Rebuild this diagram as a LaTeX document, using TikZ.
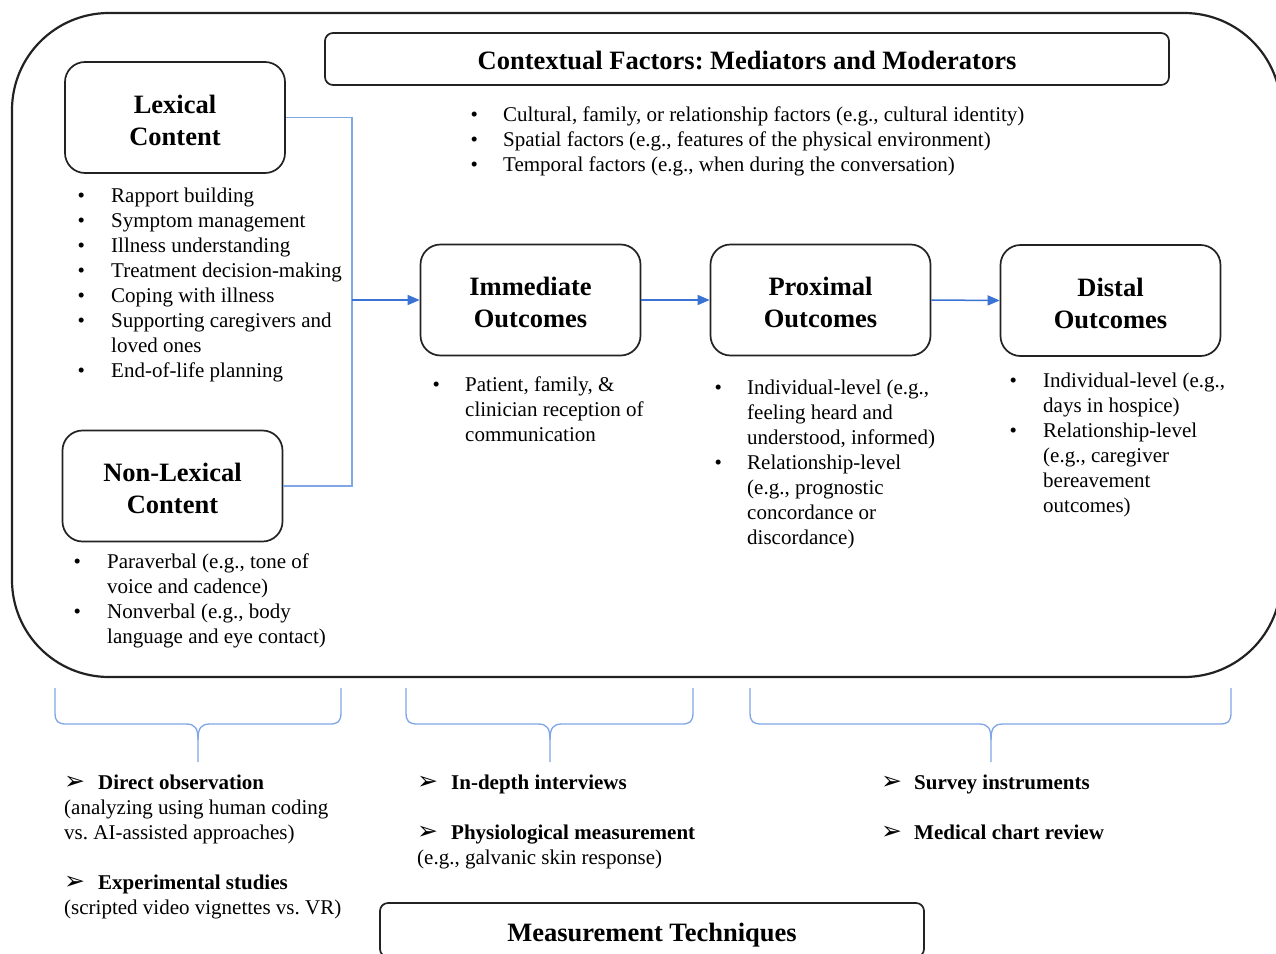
\documentclass[tikz,border=0pt]{standalone}
\usepackage{fontspec}
\setmainfont{Liberation Serif}
\newfontfamily\djv{DejaVu Sans}
\usetikzlibrary{arrows.meta}
\frenchspacing
\definecolor{linec}{HTML}{222222}
\definecolor{conncol}{HTML}{7FA6E6}
\definecolor{arrcol}{HTML}{3B73D4}
\newcommand{\blist}[2]{\begin{tabular}{@{}p{#1}@{}l@{}}#2\end{tabular}}
\newcommand{\arrg}{{\djv\fontsize{25}{25}\selectfont ➢}}
\newcommand{\hfont}{\fontsize{26.5}{32}\selectfont\bfseries}
\newcommand{\bfont}{\fontsize{21}{25}\selectfont}
\newcommand{\htwo}[2]{\begin{tabular}{@{}c@{}}\rule{0pt}{32.6pt}#1\\#2\end{tabular}}
\newcommand{\mybrace}[3]{%
 \draw[brace] (#1,688) -- (#1,712) .. controls (#1,722) and ({#1+3},724) .. ({#1+12},724) -- ({#2-12},724) .. controls ({#2-3},724) and (#2,728) .. (#2,740) -- (#2,762);
 \draw[brace] (#2,740) .. controls (#2,728) and ({#2+3},724) .. ({#2+12},724) -- ({#3-12},724) .. controls ({#3-3},724) and (#3,722) .. (#3,712) -- (#3,688);}
\begin{document}
\begin{tikzpicture}[x=1pt,y=-1pt,
  box/.style={draw=linec, line width=1.7pt, rounded corners=20pt, minimum width=220pt, minimum height=111pt, inner sep=0pt, font=\hfont},
  tbox/.style={draw=linec, line width=1.7pt, rounded corners=8pt, inner sep=0pt, minimum height=52pt, font=\hfont},
  txt/.style={anchor=north west, inner sep=0pt, font=\bfont},
  conn/.style={draw=conncol, line width=1.2pt},
  arrow/.style={draw=arrcol, line width=1.5pt, -{Triangle[length=12pt,width=10pt]}},
  brace/.style={draw=conncol, line width=1.3pt},
  outer/.style={draw=linec, line width=2.2pt, rounded corners=97pt}]
\clip (0,0) rectangle (1276,953);
\fill[white] (0,0) rectangle (1276,953);
\draw[outer] (12,13) rectangle (1281,677);

\node[tbox, minimum width=844pt] (ctx) at (747,59) {\rule{0pt}{22pt}Contextual Factors: Mediators and Moderators};
\node[box] (lex) at (175,117.5) {\htwo{Lexical}{Content}};
\node[box] (nonlex) at (172.5,486) {\htwo{Non-Lexical}{Content}};
\node[box] (imm) at (530.5,300) {\htwo{Immediate}{Outcomes}};
\node[box] (prox) at (820.5,300) {\htwo{Proximal}{Outcomes}};
\node[box] (dist) at (1110.5,300.5) {\htwo{Distal}{Outcomes}};
\node[tbox, minimum width=544pt, minimum height=54pt] (meas) at (652,930) {\rule{0pt}{27.7pt}Measurement Techniques};

\coordinate (j) at (352,300);
\draw[conn] (lex.east) -| (j) |- (nonlex.east);
\draw[arrow] (j) -- (imm.west);
\draw[arrow] (imm.east) -- (prox.west);
\draw[arrow] (prox.east) -- (dist.west);

\node[txt] (ctxl) at (470.3,103.5) {\blist{32.7pt}{%
\textbullet & Cultural, family, or relationship factors (e.g., cultural identity)\\
\textbullet & Spatial factors (e.g., features of the physical environment)\\
\textbullet & Temporal factors (e.g., when during the conversation)}};

\node[txt] (lexl) at (77.3,184.5) {\blist{33.7pt}{%
\textbullet & Rapport building\\
\textbullet & Symptom management\\
\textbullet & Illness understanding\\
\textbullet & Treatment decision-making\\
\textbullet & Coping with illness\\
\textbullet & Supporting caregivers and\\
 & loved ones\\
\textbullet & End-of-life planning}};

\node[txt] (nonlexl) at (73.3,550.5) {\blist{33.7pt}{%
\textbullet & Paraverbal (e.g., tone of\\
 & voice and cadence)\\
\textbullet & Nonverbal (e.g., body\\
 & language and eye contact)}};

\node[txt] (imml) at (432.3,373.5) {\blist{32.7pt}{%
\textbullet & Patient, family, \&\\
 & clinician reception of\\
 & communication}};

\node[txt] (proxl) at (714.3,376.5) {\blist{32.7pt}{%
\textbullet & Individual-level (e.g.,\\
 & feeling heard and\\
 & understood, informed)\\
\textbullet & Relationship-level\\
 & (e.g., prognostic\\
 & concordance or\\
 & discordance)}};

\node[txt] (distl) at (1009.3,369.5) {\blist{33.7pt}{%
\textbullet & Individual-level (e.g.,\\
 & days in hospice)\\
\textbullet & Relationship-level\\
 & (e.g., caregiver\\
 & bereavement\\
 & outcomes)}};

\mybrace{55}{198}{341}
\mybrace{406}{550}{693}
\mybrace{750}{991}{1231}

\node[txt] (m1) at (64,771.5) {\begin{tabular}{@{}l@{}}
\makebox[34pt][l]{\arrg}\textbf{Direct observation}\\
(analyzing using human coding\\
vs. AI-assisted approaches)\\
\mbox{}\\
\makebox[34pt][l]{\arrg}\textbf{Experimental studies}\\
(scripted video vignettes vs. VR)
\end{tabular}};

\node[txt] (m2) at (417,771.5) {\begin{tabular}{@{}l@{}}
\makebox[34pt][l]{\arrg}\textbf{In-depth interviews}\\
\mbox{}\\
\makebox[34pt][l]{\arrg}\textbf{Physiological measurement}\\
(e.g., galvanic skin response)
\end{tabular}};

\node[txt] (m3) at (881,771.5) {\begin{tabular}{@{}l@{}}
\makebox[33pt][l]{\arrg}\textbf{Survey instruments}\\
\mbox{}\\
\makebox[33pt][l]{\arrg}\textbf{Medical chart review}
\end{tabular}};
\end{tikzpicture}
\end{document}
